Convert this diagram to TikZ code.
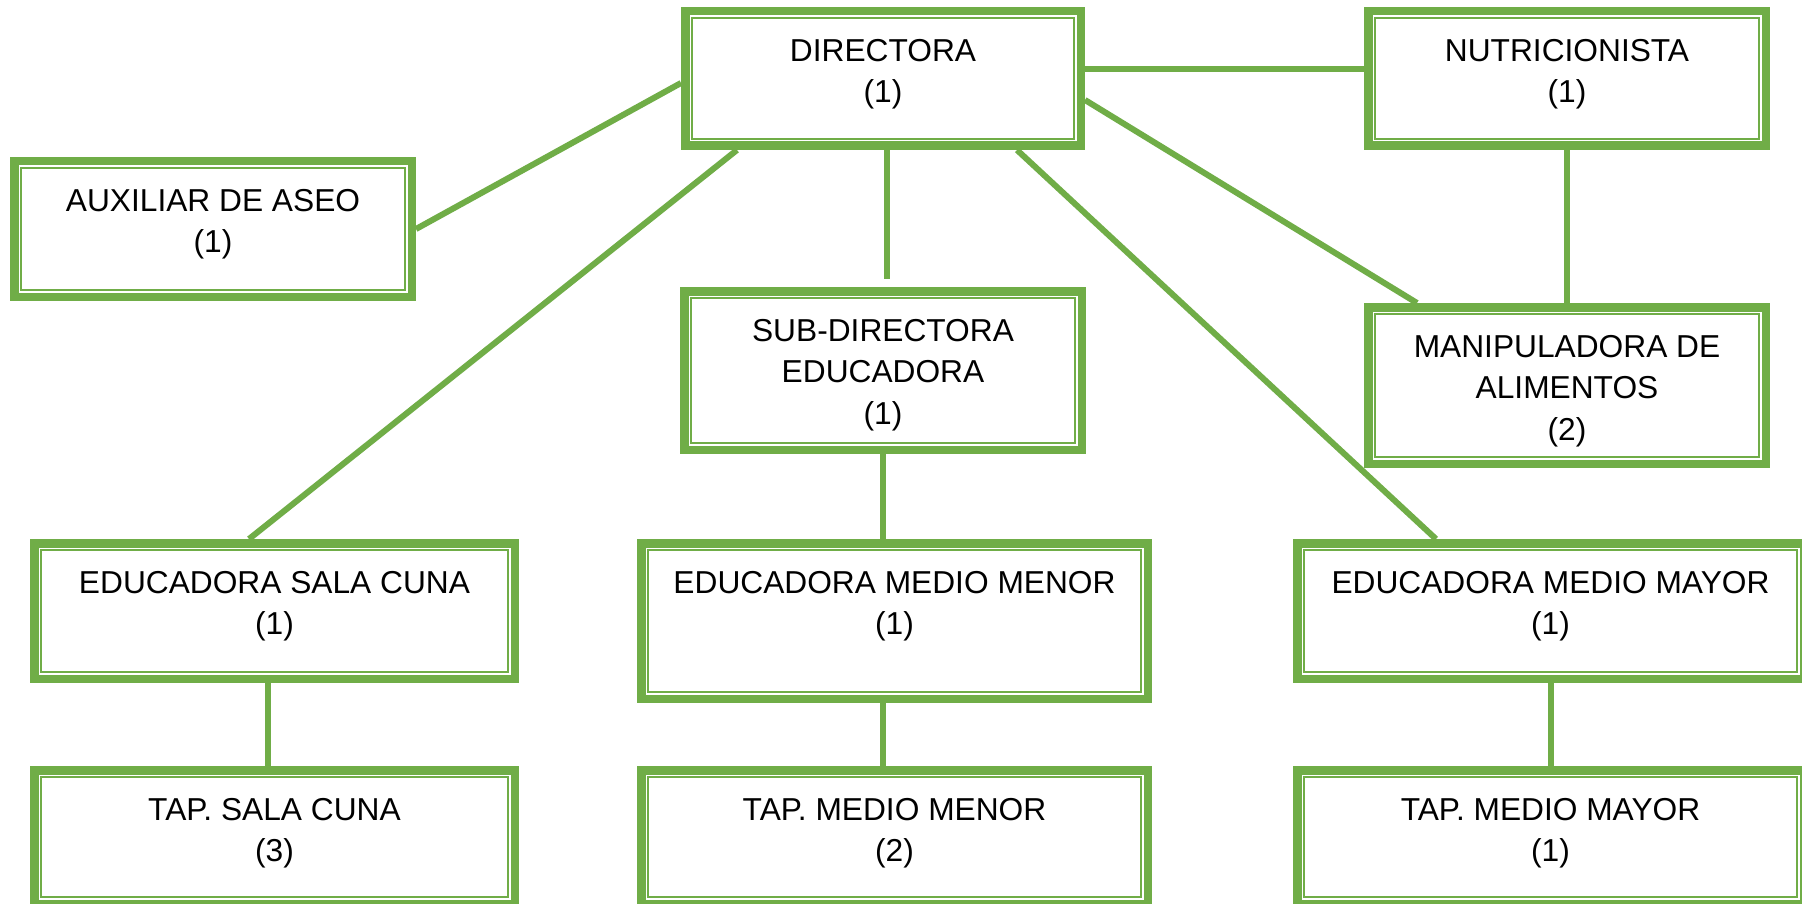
\documentclass[tikz,border=0pt]{standalone}
\usepackage{fontspec}
\setmainfont{Liberation Sans}
\usetikzlibrary{backgrounds,calc}
\definecolor{grn}{HTML}{70AD47}
\begin{document}
\begin{tikzpicture}[x=1pt,y=-1pt,
  box/.style 2 args={draw=grn, line width=8.5pt, fill=white, rectangle, inner sep=0pt,
    minimum width=#1pt-8.5pt, minimum height=#2pt-8.5pt,
    path picture={\draw[grn, line width=2.2pt]
      ([shift={(7pt,-7pt)}]path picture bounding box.north west) rectangle
      ([shift={(-7pt,7pt)}]path picture bounding box.south east);}},
  lbl/.style={anchor=north, yshift=-32pt, inner sep=0pt, align=center,
    font=\fontsize{31.7}{41.5}\selectfont, text=black},
  conn/.style={draw=grn, line width=6pt}]
\useasboundingbox (0,0) rectangle (1802,904);

\node[box={404}{143}, label={[lbl]north:{DIRECTORA\\(1)}}] (dir) at (883,78.5) {};
\node[box={406}{143}, label={[lbl]north:{NUTRICIONISTA\\(1)}}] (nutri) at (1567,78.5) {};
\node[box={406}{144}, label={[lbl]north:{AUXILIAR DE ASEO\\(1)}}] (aux) at (213,229) {};
\node[box={406}{167}, label={[lbl]north:{SUB-DIRECTORA\\EDUCADORA\\(1)}}] (sub) at (883,370.5) {};
\node[box={406}{165}, label={[lbl]north:{MANIPULADORA DE\\ALIMENTOS\\(2)}}] (manip) at (1567,385.5) {};
\node[box={489}{144}, label={[lbl]north:{EDUCADORA SALA CUNA\\(1)}}] (esc) at (274.5,611) {};
\node[box={515}{164}, label={[lbl]north:{EDUCADORA MEDIO MENOR\\(1)}}] (emm) at (894.5,621) {};
\node[box={515}{144}, label={[lbl]north:{EDUCADORA MEDIO MAYOR\\(1)}}] (emy) at (1550.5,611) {};
\node[box={489}{142}, label={[lbl]north:{TAP. SALA CUNA\\(3)}}] (tsc) at (274.5,837) {};
\node[box={515}{142}, label={[lbl]north:{TAP. MEDIO MENOR\\(2)}}] (tmm) at (894.5,837) {};
\node[box={515}{142}, label={[lbl]north:{TAP. MEDIO MAYOR\\(1)}}] (tmy) at (1550.5,837) {};

\begin{scope}[on background layer]
\fill[white] (0,0) rectangle (1802,904);
\draw[conn] ([yshift=-4.5pt]dir.west) -- (aux.east);
\draw[conn] ([yshift=9.5pt]dir.east) -- ([yshift=9.5pt]nutri.west);
\draw[conn] ([yshift=-21.5pt]dir.east) -- ([xshift=-150pt]manip.north);
\draw[conn] (nutri.south) -- (manip.north);
\draw[conn] ([xshift=3.5pt]dir.south) -- ([xshift=3.5pt,yshift=8pt]sub.north);
\draw[conn] (sub.south) -- (sub.south |- emm.north);
\draw[conn] (sub.south |- emm.south) -- (sub.south |- tmm.north);
\draw[conn] ([xshift=-6.5pt]esc.south) -- ([xshift=-6.5pt]tsc.north);
\draw[conn] (emy.south) -- (tmy.north);
\draw[conn] ([xshift=-146pt]dir.south) -- ([xshift=-25.5pt]esc.north);
\draw[conn] ([xshift=134pt]dir.south) -- ([xshift=-114.5pt]emy.north);
\end{scope}
\end{tikzpicture}
\end{document}
